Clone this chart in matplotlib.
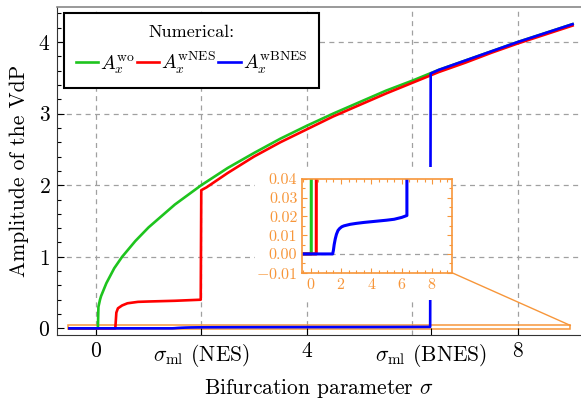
import numpy as np
from matplotlib import pyplot as plt
from matplotlib.patches import Rectangle, ConnectionPatch
from matplotlib.ticker import MultipleLocator

plt.rcParams['font.family'] = 'serif'
plt.rcParams['font.serif'] = ['cmr10']
plt.rcParams['mathtext.fontset'] = 'cm'
plt.rcParams['axes.formatter.use_mathtext'] = True

# values
sigma_wo = [-0.5, 0.04, 0.05, 0.08, 0.1, 0.2, 0.35, 0.5, 0.75, 1.0, 1.5, 2.0, 2.5, 3.0,
            3.5, 4.0, 4.5, 5.0, 5.5, 6.0, 6.5, 7.0, 7.5, 8.0, 8.5, 9.04]
amp_wo = [0.0, 0.0, 0.30, 0.40, 0.45, 0.63, 0.84, 1.0, 1.22, 1.41, 1.73, 2.0, 2.24, 2.45,
          2.65, 2.83, 3.0, 3.16, 3.32, 3.46, 3.61, 3.74, 3.87, 4.0, 4.12, 4.25]

sigma_nes = [-0.5, 0.37, 0.39, 0.42, 0.5, 0.6, 0.8, 1.0, 1.5, 1.99, 2.0, 2.1, 2.5, 3.0,
             3.5, 4.0, 4.5, 5.0, 5.5, 6.0, 6.5, 7.0, 7.5, 8.0, 8.5, 9.04]
amp_nes = [0.0, 0.0, 0.22, 0.28, 0.32, 0.35, 0.37, 0.375, 0.385, 0.40, 1.93, 1.97, 2.17, 2.40,
           2.60, 2.78, 2.96, 3.12, 3.28, 3.43, 3.58, 3.71, 3.85, 3.98, 4.10, 4.23]

sigma_bnes = [-0.5, 1.45, 1.5, 1.55, 1.62, 1.7, 1.8, 1.9, 2.05, 2.2, 2.6, 3.0, 3.5, 4.0,
              4.5, 5.0, 5.5, 6.0, 6.34, 6.35, 6.5, 7.0, 7.5, 8.0, 8.5, 9.04]
amp_bnes = [0.0, 0.0, 0.002, 0.005, 0.008, 0.0105, 0.0125, 0.0135, 0.0145, 0.015, 0.0158,
            0.0163, 0.0168, 0.0172, 0.0176, 0.018, 0.0185, 0.0195, 0.0205, 3.56, 3.61, 3.74,
            3.87, 4.0, 4.12, 4.25]

x_ticks = [0, 2, 4, 6.35, 8]
x_ticklabels = ['0', r'$\sigma_{\rm ml}$ (NES)', '4', r'$\sigma_{\rm ml}$ (BNES)', '8']
y_ticks = [0, 1, 2, 3, 4]
grid_x = [0, 2, 4, 6, 8]
grid_y = [1, 2, 3, 4]

inset_xticks = [0, 2, 4, 6, 8]
inset_yticks = [-0.01, 0.0, 0.01, 0.02, 0.03, 0.04]
inset_ylabels = ['$-0.01$', '0.00', '0.01', '0.02', '0.03', '0.04']

GREEN = '#1ec41e'
RED = '#ff0000'
BLUE = '#0000ff'
ORANGE = '#f7963a'
GRID = '#a0a0a0'


def main():
    fig = plt.figure(figsize=(5.81, 4.01), dpi=100)
    ax = fig.add_axes([0.0986, 0.1646, 0.9014, 0.818])

    for gx in grid_x:
        ax.axvline(gx, color=GRID, lw=0.9, ls=(0, (4, 3.5)), zorder=0)
    for gy in grid_y:
        ax.axhline(gy, color=GRID, lw=0.9, ls=(0, (4, 3.5)), zorder=0)

    # zoomed region on the main axes (drawn under the curves)
    ax.add_patch(Rectangle((-0.53, -0.01), 9.53, 0.05, fill=False, ec=ORANGE, lw=1.1, zorder=1))

    l1, = ax.plot(sigma_wo, amp_wo, color=GREEN, lw=1.9, label=r'$A_x^{\rm wo}$', zorder=2)
    l2, = ax.plot(sigma_nes, amp_nes, color=RED, lw=1.9, label=r'$A_x^{\rm wNES}$', zorder=3)
    l3, = ax.plot(sigma_bnes, amp_bnes, color=BLUE, lw=1.9, label=r'$A_x^{\rm wBNES}$', zorder=4)

    ax.set_xlim(-0.73, 9.2)
    ax.set_ylim(-0.093, 4.49)
    ax.set_xticks(x_ticks)
    ax.set_xticklabels(x_ticklabels)
    ax.set_yticks(y_ticks)
    ax.yaxis.set_minor_locator(MultipleLocator(0.2))
    ax.tick_params(which='major', direction='in', length=5, width=0.8, labelsize=15.5, pad=5)
    ax.tick_params(which='minor', direction='in', length=2.8, width=0.8)
    ax.spines['right'].set_visible(False)
    ax.spines['top'].set_color('#888888')
    ax.spines['top'].set_linewidth(1.2)
    ax.spines['left'].set_color('#333333')
    ax.spines['bottom'].set_color('#333333')
    ax.set_xlabel(r'Bifurcation parameter $\sigma$', fontsize=15.5, labelpad=6)
    ax.set_ylabel('Amplitude of the VdP', fontsize=15.5, labelpad=7)

    leg = ax.legend(handles=[l1, l2, l3], ncol=3, title='Numerical:', fontsize=14,
                    title_fontsize=13, loc='upper left', bbox_to_anchor=(0.0128, 0.9817),
                    borderaxespad=0, handlelength=1.15, handletextpad=0.1, columnspacing=0.1,
                    borderpad=0.6, fancybox=False, framealpha=1)
    leg.get_frame().set_edgecolor('black')
    leg.get_frame().set_linewidth(1.5)

    # white backing behind the inset and its labels
    ax.add_patch(Rectangle((0.4389, 0.2519), 0.3408, 0.3317, transform=fig.transFigure,
                           fc='white', ec='none', zorder=6, clip_on=False))

    ins = fig.add_axes([0.519, 0.32, 0.2587, 0.2337])
    ins.axhline(0, color=GRID, lw=0.9, ls=(0, (4, 3.5)), zorder=0)
    ins.plot(sigma_wo, amp_wo, color=GREEN, lw=2.2)
    ins.plot(sigma_nes, amp_nes, color=RED, lw=2.2)
    ins.plot(sigma_bnes, amp_bnes, color=BLUE, lw=2.2)
    ins.set_xlim(-0.6, 9.3)
    ins.set_ylim(-0.01, 0.04)
    ins.set_xticks(inset_xticks)
    ins.set_yticks(inset_yticks)
    ins.set_yticklabels(inset_ylabels)
    ins.xaxis.set_minor_locator(MultipleLocator(0.5))
    ins.yaxis.set_minor_locator(MultipleLocator(0.005))
    ins.tick_params(which='both', direction='in', top=True, right=True, color=ORANGE,
                    labelcolor=ORANGE, width=0.8)
    ins.tick_params(which='major', length=3.5, labelsize=11.5, pad=3)
    ins.tick_params(which='minor', length=2)
    for s in ins.spines.values():
        s.set_color(ORANGE)
        s.set_linewidth(1.2)

    con = ConnectionPatch(xyA=(1, 0), coordsA=ins.transAxes, xyB=(9.0, 0.04),
                          coordsB=ax.transData, color=ORANGE, lw=1.0)
    fig.add_artist(con)

    plt.savefig('out.png', dpi=100)


if __name__ == '__main__':
    main()
